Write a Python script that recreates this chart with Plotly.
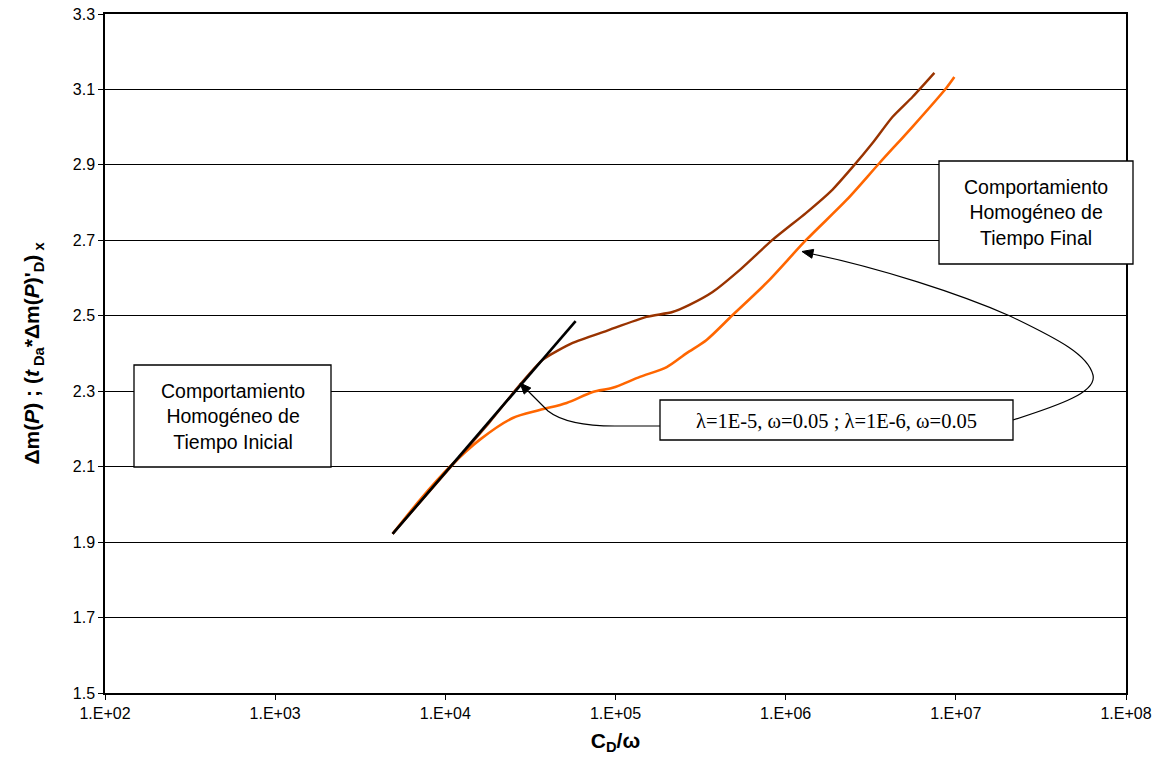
import math
import plotly.graph_objects as go

# Type-curve series: C_D/omega vs dimensionless pressure function
cd_omega_l5 = [4.9e3, 1.06e4, 1.82e4, 2.74e4, 3.73e4, 5.60e4, 8.87e4, 1.52e5, 2.16e5,
               2.72e5, 3.72e5, 5.36e5, 8.36e5, 1.32e6, 1.88e6, 2.47e6, 3.24e6, 4.24e6,
               5.56e6, 7.48e6]
dm_l5 = [1.922, 2.096, 2.218, 2.317, 2.383, 2.428, 2.460, 2.497, 2.510,
         2.529, 2.563, 2.621, 2.701, 2.773, 2.834, 2.894, 2.958, 3.027,
         3.080, 3.144]

cd_omega_l6 = [4.9e3, 7.1e3, 1.06e4, 1.59e4, 2.49e4, 3.58e4, 5.16e4, 7.35e4, 9.62e4,
               1.39e5, 2.00e5, 2.62e5, 3.43e5, 4.88e5, 7.71e5, 1.32e6, 2.28e6, 3.56e6,
               5.56e6, 8.79e6, 9.80e6]
dm_l6 = [1.922, 2.012, 2.099, 2.171, 2.229, 2.250, 2.269, 2.298, 2.309,
         2.338, 2.364, 2.401, 2.436, 2.502, 2.587, 2.701, 2.807, 2.905,
         3.001, 3.104, 3.133]

# Early-time homogeneous straight line
cd_omega_early = [4.9e3, 5.83e4]
dm_early = [1.922, 2.486]

x_tick_vals = [1e2, 1e3, 1e4, 1e5, 1e6, 1e7, 1e8]
x_tick_text = ["1.E+02", "1.E+03", "1.E+04", "1.E+05", "1.E+06", "1.E+07", "1.E+08"]

W, H = 1158, 759
ML, MR, MT, MB = 105, 32, 14, 66
PW, PH = W - ML - MR, H - MT - MB


def px(x):
    return (x - ML) / PW


def py(y):
    return (H - MB - y) / PH


def pt(p):
    return f"{px(p[0]):.5f},{py(p[1]):.5f}"


def path(cmds):
    return " ".join(c if isinstance(c, str) else pt(c) for c in cmds)


def arrow_head(tip, tail, length=11, half=4.5):
    dx, dy = tip[0] - tail[0], tip[1] - tail[1]
    n = math.hypot(dx, dy)
    ux, uy = dx / n, dy / n
    bx, by = tip[0] - length * ux, tip[1] - length * uy
    p1 = (bx + half * -uy, by + half * ux)
    p2 = (bx - half * -uy, by - half * ux)
    return dict(type="path", xref="paper", yref="paper", layer="above",
                path=path(["M", tip, "L", p1, "L", p2, "Z"]),
                fillcolor="black", line=dict(color="black", width=1))


fig = go.Figure()
fig.add_trace(go.Scatter(x=cd_omega_l6, y=dm_l6, mode="lines", name="λ=1E-6, ω=0.05",
                         line=dict(color="#FF6600", width=2.6, shape="spline", smoothing=0.8)))
fig.add_trace(go.Scatter(x=cd_omega_l5, y=dm_l5, mode="lines", name="λ=1E-5, ω=0.05",
                         line=dict(color="#993300", width=2.4, shape="spline", smoothing=0.6)))
fig.add_trace(go.Scatter(x=cd_omega_early, y=dm_early, mode="lines", name="Homogéneo inicial",
                         line=dict(color="black", width=2.6)))

shapes = []
# Text boxes
for (x0, y0, x1, y1) in [(134, 365, 331, 467), (939, 161, 1133, 264), (660, 400, 1013, 440)]:
    shapes.append(dict(type="rect", xref="paper", yref="paper",
                       x0=px(x0), x1=px(x1), y0=py(y1), y1=py(y0),
                       line=dict(color="black", width=1.3), fillcolor="white", layer="above"))
# Connector curves from the parameter box
shapes.append(dict(type="path", xref="paper", yref="paper", layer="above",
                   path=path(["M", (660, 426), "L", (615, 426), "C", (585, 426), (562, 422),
                              (548, 411), "L", (528, 391)]),
                   line=dict(color="black", width=1.2)))
shapes.append(dict(type="path", xref="paper", yref="paper", layer="above",
                   path=path(["M", (1013, 420), "C", (1060, 405), (1097, 392), (1093, 375),
                              "C", (1088, 355), (1060, 340), (1010, 316),
                              "C", (960, 294), (880, 268), (810, 253.5)]),
                   line=dict(color="black", width=1.2)))
shapes.append(arrow_head((520, 383), (533, 397)))
shapes.append(arrow_head((802, 251.5), (816, 254.5)))

box_font = dict(family="Liberation Sans, Arial", size=19.5, color="black")
annotations = [
    dict(xref="paper", yref="paper", x=px(232.5), y=py(416), showarrow=False,
         text="Comportamiento<br>Homogéneo de<br>Tiempo Inicial", font=box_font,
         xanchor="center", yanchor="middle", align="center"),
    dict(xref="paper", yref="paper", x=px(1036), y=py(212.5), showarrow=False,
         text="Comportamiento<br>Homogéneo de<br>Tiempo Final", font=box_font,
         xanchor="center", yanchor="middle", align="center"),
    dict(xref="paper", yref="paper", x=px(836.5), y=py(421), showarrow=False,
         text="λ=1E-5, ω=0.05 ; λ=1E-6, ω=0.05",
         font=dict(family="Liberation Serif, Times New Roman", size=20.5, color="black"),
         xanchor="center", yanchor="middle"),
]

fig.update_layout(
    width=W, height=H,
    margin=dict(l=ML, r=MR, t=MT, b=MB, pad=0, autoexpand=False),
    paper_bgcolor="white", plot_bgcolor="white",
    showlegend=False,
    font=dict(family="Liberation Sans, Arial", size=16, color="black"),
    shapes=shapes, annotations=annotations,
)
fig.update_xaxes(type="log", range=[2, 8], tickvals=x_tick_vals, ticktext=x_tick_text,
                 automargin=False,
                 showgrid=False, zeroline=False, showline=True, linecolor="black",
                 linewidth=1.5, mirror=True, ticks="outside", ticklen=5, tickcolor="black",
                 tickfont=dict(size=16),
                 title=dict(text="<b>C<sub>D</sub>/ω</b>", font=dict(size=21), standoff=12))
fig.update_yaxes(range=[1.5, 3.3], dtick=0.2, tick0=1.5, tickformat=".1f",
                 automargin=False,
                 showgrid=True, gridcolor="black", gridwidth=1, zeroline=False,
                 showline=True, linecolor="black", linewidth=1.5, mirror=True,
                 ticks="outside", ticklen=5, tickcolor="black", tickfont=dict(size=16),
                 title=dict(text="<b>Δm(<i>P</i>) ; (<i>t</i><sub> Da</sub>*Δm(<i>P</i>)'<sub>D</sub>)<sub> x</sub></b>",
                            font=dict(size=21), standoff=27))

fig.write_html("out.html")
